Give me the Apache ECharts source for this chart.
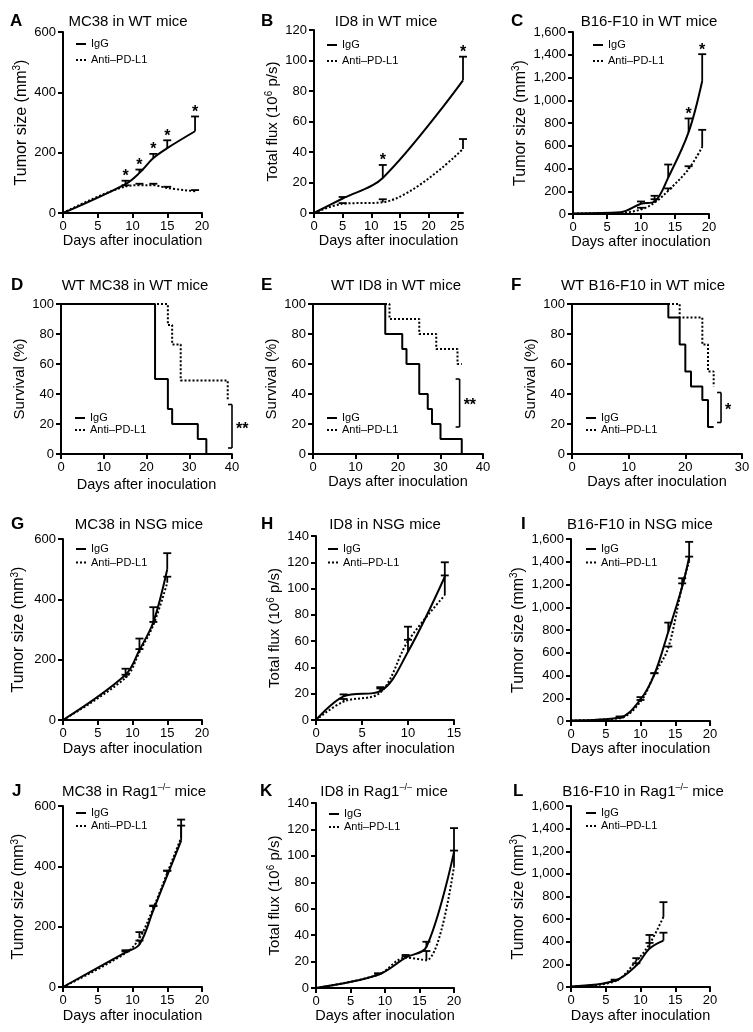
<!DOCTYPE html>
<html><head><meta charset="utf-8">
<script src="https://cdn.jsdelivr.net/npm/echarts@6/dist/echarts.min.js"></script>
<style>html,body{margin:0;padding:0;background:#fff}#c{width:753px;height:1032px}</style>
</head><body><div id="c"></div>
<script>
// ---------------- DATA ----------------
// A: MC38 in WT mice
const daysA = [0, 9, 11, 13, 15, 19];
const igA = [0, 96, 133, 182, 215, 271];
const igATop = [null, 107, 144, 196, 241, 320];
const antiA = [0, 88, 92, 92, 83, 72];
const antiATop = [null, 92, 97, 97, 87, 76];
const sigA = ['', '*', '*', '*', '*', '*'];
// B: ID8 in WT mice
const daysB = [0, 5, 12, 26];
const igB = [0, 9.5, 23, 87];
const igBTop = [null, 10.5, 31.5, 102.5];
const antiB = [0, 6, 7, 42];
const antiBTop = [null, 6.5, 9, 48.5];
const sigB = ['', '', '*', '*'];
// C: B16-F10 in WT mice
const daysC = [0, 7, 10, 12, 14, 17, 19];
const igC = [5, 15, 90, 110, 320, 720, 1170];
const igCTop = [null, null, 110, 160, 435, 840, 1405];
const antiC = [5, 10, 40, 100, 205, 395, 590];
const antiCTop = [null, null, 55, 130, 225, 420, 740];
const sigC = ['', '', '', '', '', '*', '*'];
// D-F: survival (day, %)
const survIgGD = [[0, 100], [22, 50], [25, 30], [26, 20], [32, 10], [34, 0]];
const survAntiD = [[0, 100], [25, 86], [26, 73], [28, 49], [39, 36]];
const survIgGE = [[0, 100], [17, 80], [21, 70], [22, 60], [25, 40], [27, 30], [28, 20], [30, 10], [35, 0]];
const survAntiE = [[0, 100], [18, 90], [25, 80], [29, 70], [34, 60], [35, 60]];
const survIgGF = [[0, 100], [17, 91], [19, 73], [20, 55], [21, 45], [23, 36], [24, 18], [25, 18]];
const survAntiF = [[0, 100], [19, 91], [23, 73], [24, 55], [25, 45]];
// significance brackets: [x, yLow, yHigh]
const bracketD = [40, 4, 33], bracketDLabel = '**';
const bracketE = [34.5, 18, 50], bracketELabel = '**';
const bracketF = [26.3, 21, 41], bracketFLabel = '*';
// G: MC38 in NSG mice
const daysG = [0, 9, 11, 13, 15];
const igG = [0, 150, 232, 325, 500];
const igGTop = [null, 170, 270, 374, 553];
const antiG = [0, 140, 225, 315, 455];
const antiGTop = [null, 150, 235, 325, 475];
// H: ID8 in NSG mice
const daysH = [0, 3, 7, 10, 14];
const igH = [0, 18, 22, 52, 109];
const igHTop = [null, 19.5, 25, 61, 120];
const antiH = [0, 14, 21, 60, 95];
const antiHTop = [null, 16, 24, 71, 110];
// I: B16-F10 in NSG mice
const daysI = [0, 7, 10, 12, 14, 16, 17];
const igI = [5, 30, 190, 410, 785, 1180, 1440];
const igITop = [null, 40, 210, 420, 865, 1255, 1575];
const antiI = [5, 25, 170, 410, 645, 1190, 1400];
const antiITop = [null, 30, 185, 420, 655, 1210, 1445];
// J: MC38 in Rag1-/- mice
const daysJ = [0, 9, 11, 13, 15, 17];
const igJ = [0, 115, 141, 255, 370, 485];
const igJTop = [null, 122, 154, 268, 385, 555];
const antiJ = [0, 112, 162, 262, 378, 495];
const antiJTop = [null, 118, 182, 270, 386, 535];
// K: ID8 in Rag1-/- mice
const daysK = [0, 9, 13, 16, 20];
const igK = [0, 10, 23, 31, 103];
const igKTop = [null, 11, 25, 35, 121];
const antiK = [0, 10, 23, 21, 92];
const antiKTop = [null, 11, 24, 28, 104];
// L: B16-F10 in Rag1-/- mice
const daysL = [0, 6.3, 9.4, 11.3, 13.3];
const igL = [5, 55, 190, 340, 410];
const igLTop = [null, 65, 210, 390, 480];
const antiL = [5, 50, 230, 380, 620];
const antiLTop = [null, 60, 255, 460, 750];

const IGG = 'IgG', ANTI = 'Anti–PD-L1';
const TUMOR = 'Tumor size (mm{sup|3})';
const FLUX = 'Total flux (10{sup|6} p/s)';
const SURV = 'Survival (%)';

// ---------------- BUILD ----------------
const FONT = "'Liberation Sans', Arial, Helvetica, sans-serif";
const grids = [], xAxes = [], yAxes = [], series = [], titles = [], legends = [];

function fmt(v) { return String(v).replace(/\B(?=(\d{3})+(?!\d))/g, ','); }
function zip(a, b) { return a.map((d, k) => [d, b[k]]); }

function errRender(params, api) {
  const x = api.value(0), m = api.value(1), t = api.value(2);
  const p0 = api.coord([x, m]), p1 = api.coord([x, t]);
  return { type: 'group', children: [
    { type: 'line', shape: { x1: p0[0], y1: p0[1], x2: p1[0], y2: p1[1] }, style: { stroke: '#000', lineWidth: 1.8 } },
    { type: 'line', shape: { x1: p1[0] - 4, y1: p1[1], x2: p1[0] + 4, y2: p1[1] }, style: { stroke: '#000', lineWidth: 1.8 } }
  ] };
}

function addPanel(p) {
  const i = grids.length;
  const yFont = p.yname === TUMOR ? 16 : 15;
  grids.push({ left: p.g[0], top: p.g[1], width: p.g[2] - p.g[0], height: p.g[3] - p.g[1] });
  const xLab = { color: '#000', fontSize: 13, fontFamily: FONT, margin: 7 };
  const xTick = { length: 5, lineStyle: { width: 2, color: '#000' } };
  if (p.xcustom) { xLab.customValues = p.xcustom; xTick.customValues = p.xcustom; }
  xAxes.push({ type: 'value', gridIndex: i, min: 0, max: p.xmax, interval: p.xint,
    name: 'Days after inoculation', nameLocation: 'middle', nameGap: p.xgap,
    nameTextStyle: { fontSize: 14.5, color: '#000', fontFamily: FONT },
    axisLine: { onZero: false, lineStyle: { color: '#000', width: 2 } },
    axisTick: xTick, axisLabel: xLab, splitLine: { show: false } });
  yAxes.push({ type: 'value', gridIndex: i, min: 0, max: p.ymax, interval: p.yint,
    name: p.yname, nameLocation: 'middle', nameGap: p.ygap,
    nameTextStyle: { fontSize: yFont, color: '#000', fontFamily: FONT, lineHeight: yFont + 2,
      rich: { sup: { fontSize: 10, lineHeight: 10, verticalAlign: 'top', fontFamily: FONT, color: '#000' } } },
    axisLine: { show: true, onZero: false, lineStyle: { color: '#000', width: 2 } },
    axisTick: { show: true, length: 5, lineStyle: { width: 2, color: '#000' } },
    axisLabel: { color: '#000', fontSize: 13, fontFamily: FONT, margin: 7, formatter: fmt },
    splitLine: { show: false } });
  titles.push({ text: p.id, left: p.lx, top: p.ty, padding: 0,
    textStyle: { fontSize: 17, fontWeight: 'bold', color: '#000', fontFamily: FONT, lineHeight: 17 } });
  titles.push({ text: p.title, left: p.tx, top: p.ty, padding: 0, textAlign: 'center',
    textStyle: { fontSize: 15, fontWeight: 'normal', color: '#000', fontFamily: FONT, lineHeight: 17,
      rich: { sup: { fontSize: 9, lineHeight: 9, verticalAlign: 'top', fontFamily: FONT, color: '#000' } } } });
  legends.push({ orient: 'vertical', left: p.leg[0], top: p.leg[1], itemGap: p.leg[2], padding: 0,
    itemWidth: 10, itemHeight: 2, selectedMode: false,
    textStyle: { fontSize: 11, color: '#000', fontFamily: FONT, lineHeight: 12 },
    data: [{ name: IGG, icon: 'rect' },
           { name: ANTI, icon: 'path://M0,0h2v2h-2z M4,0h2v2h-2z M8,0h2v2h-2z' }] });
  return i;
}

function lineSeries(i, name, data, dotted, step) {
  const s = { type: 'line', name, xAxisIndex: i, yAxisIndex: i, data, symbol: 'none', silent: true,
    lineStyle: { color: '#000', width: 2, type: dotted ? 'dotted' : 'solid' }, itemStyle: { color: '#000' }, z: dotted ? 4 : 3 };
  if (step) s.step = 'end'; else s.smooth = 0.35;
  series.push(s);
}
function errSeries(i, days, mean, top) {
  const data = [];
  days.forEach((d, k) => { if (top[k] != null) data.push([d, mean[k], top[k]]); });
  series.push({ type: 'custom', name: 'err', xAxisIndex: i, yAxisIndex: i, silent: true, data, renderItem: errRender, z: 5,
    encode: { x: 0, y: [1, 2] } });
}
function starSeries(i, days, top, sig) {
  const data = [], labels = [];
  days.forEach((d, k) => { if (sig[k]) { data.push([d, top[k]]); labels.push(sig[k]); } });
  series.push({ type: 'custom', name: 'sig', xAxisIndex: i, yAxisIndex: i, silent: true, data, z: 6,
    renderItem: (params, api) => {
      const p = api.coord([api.value(0), api.value(1)]);
      return { type: 'text', x: p[0], y: p[1] - 4, style: { text: labels[params.dataIndex], fill: '#000',
        font: 'bold 16px ' + FONT, textAlign: 'center', textVerticalAlign: 'middle' } };
    } });
}
function bracketSeries(i, b, label) {
  series.push({ type: 'custom', name: 'bracket', xAxisIndex: i, yAxisIndex: i, silent: true, data: [b], z: 6,
    renderItem: (params, api) => {
      const a = api.coord([api.value(0), api.value(1)]), c = api.coord([api.value(0), api.value(2)]);
      const st = { stroke: '#000', lineWidth: 1.6 };
      return { type: 'group', children: [
        { type: 'line', shape: { x1: a[0], y1: a[1], x2: c[0], y2: c[1] }, style: st },
        { type: 'line', shape: { x1: a[0] - 4, y1: a[1], x2: a[0], y2: a[1] }, style: st },
        { type: 'line', shape: { x1: c[0] - 4, y1: c[1], x2: c[0], y2: c[1] }, style: st },
        { type: 'text', x: a[0] + 4, y: (a[1] + c[1]) / 2 + 3, style: { text: label, fill: '#000',
          font: 'bold 16px ' + FONT, textAlign: 'left', textVerticalAlign: 'middle' } }
      ] };
    } });
}
function tumor(p, days, ig, igTop, anti, antiTop, sig) {
  const i = addPanel(p);
  lineSeries(i, IGG, zip(days, ig), false);
  lineSeries(i, ANTI, zip(days, anti), true);
  errSeries(i, days, ig, igTop);
  errSeries(i, days, anti, antiTop);
  if (sig) starSeries(i, days, igTop, sig);
}
function survival(p, igData, antiData, br, brLabel) {
  const i = addPanel(p);
  lineSeries(i, IGG, igData, false, true);
  lineSeries(i, ANTI, antiData, true, true);
  bracketSeries(i, br, brLabel);
}

tumor({ id: 'A', title: 'MC38 in WT mice', tx: 128, ty: 13, lx: 10, g: [63, 32, 202, 213], xmax: 20, xint: 5, ymax: 600, yint: 200, yname: TUMOR, ygap: 29, xgap: 16, leg: [76, 38, 4] },
  daysA, igA, igATop, antiA, antiATop, sigA);
tumor({ id: 'B', title: 'ID8 in WT mice', tx: 386, ty: 13, lx: 261, g: [314, 30, 463, 213], xmax: 26, xint: 5, xcustom: [0, 5, 10, 15, 20, 25], ymax: 120, yint: 20, yname: FLUX, ygap: 30, xgap: 15, leg: [327, 39, 4] },
  daysB, igB, igBTop, antiB, antiBTop, sigB);
tumor({ id: 'C', title: 'B16-F10 in WT mice', tx: 649, ty: 13, lx: 511, g: [573, 32, 709, 214], xmax: 20, xint: 5, ymax: 1600, yint: 200, yname: TUMOR, ygap: 40, xgap: 14, leg: [593, 39, 4] },
  daysC, igC, igCTop, antiC, antiCTop, sigC);
survival({ id: 'D', title: 'WT MC38 in WT mice', tx: 135, ty: 277, lx: 11, g: [61, 304, 232, 454], xmax: 40, xint: 10, ymax: 100, yint: 20, yname: SURV, ygap: 25, xgap: 23, leg: [75, 412, 0] },
  survIgGD, survAntiD, bracketD, bracketDLabel);
survival({ id: 'E', title: 'WT ID8 in WT mice', tx: 396, ty: 277, lx: 261, g: [313, 304, 483, 454], xmax: 40, xint: 10, ymax: 100, yint: 20, yname: SURV, ygap: 21, xgap: 20, leg: [327, 412, 0] },
  survIgGE, survAntiE, bracketE, bracketELabel);
survival({ id: 'F', title: 'WT B16-F10 in WT mice', tx: 643, ty: 277, lx: 511, g: [572, 304, 742, 454], xmax: 30, xint: 10, ymax: 100, yint: 20, yname: SURV, ygap: 24, xgap: 16, leg: [586, 412, 0] },
  survIgGF, survAntiF, bracketF, bracketFLabel);
tumor({ id: 'G', title: 'MC38 in NSG mice', tx: 139, ty: 516, lx: 11, g: [63, 539, 202, 720], xmax: 20, xint: 5, ymax: 600, yint: 200, yname: TUMOR, ygap: 35, xgap: 21, leg: [76, 543, 1.5] },
  daysG, igG, igGTop, antiG, antiGTop, null);
tumor({ id: 'H', title: 'ID8 in NSG mice', tx: 385, ty: 516, lx: 261, g: [316, 536, 454, 720], xmax: 15, xint: 5, ymax: 140, yint: 20, yname: FLUX, ygap: 32, xgap: 21, leg: [328, 543, 1.5] },
  daysH, igH, igHTop, antiH, antiHTop, null);
tumor({ id: 'I', title: 'B16-F10 in NSG mice', tx: 640, ty: 516, lx: 521, g: [571, 539, 710, 721], xmax: 20, xint: 5, ymax: 1600, yint: 200, yname: TUMOR, ygap: 40, xgap: 20, leg: [586, 543, 1.5] },
  daysI, igI, igITop, antiI, antiITop, null);
tumor({ id: 'J', title: 'MC38 in Rag1{sup|–/–} mice', tx: 134, ty: 783, lx: 12, g: [63, 806, 202, 987], xmax: 20, xint: 5, ymax: 600, yint: 200, yname: TUMOR, ygap: 35, xgap: 21, leg: [76, 807, 1] },
  daysJ, igJ, igJTop, antiJ, antiJTop, null);
tumor({ id: 'K', title: 'ID8 in Rag1{sup|–/–} mice', tx: 384, ty: 783, lx: 260, g: [316, 803, 454, 988], xmax: 20, xint: 5, ymax: 140, yint: 20, yname: FLUX, ygap: 32, xgap: 20, leg: [329, 808, 1] },
  daysK, igK, igKTop, antiK, antiKTop, null);
tumor({ id: 'L', title: 'B16-F10 in Rag1{sup|–/–} mice', tx: 643, ty: 783, lx: 513, g: [571, 806, 710, 987], xmax: 20, xint: 5, ymax: 1600, yint: 200, yname: TUMOR, ygap: 40, xgap: 21, leg: [586, 807, 1] },
  daysL, igL, igLTop, antiL, antiLTop, null);

const chart = echarts.init(document.getElementById('c'), null, { renderer: 'canvas' });
chart.setOption({
  animation: false,
  backgroundColor: '#fff',
  textStyle: { fontFamily: FONT },
  title: titles, legend: legends, grid: grids, xAxis: xAxes, yAxis: yAxes, series
});
</script></body></html>
